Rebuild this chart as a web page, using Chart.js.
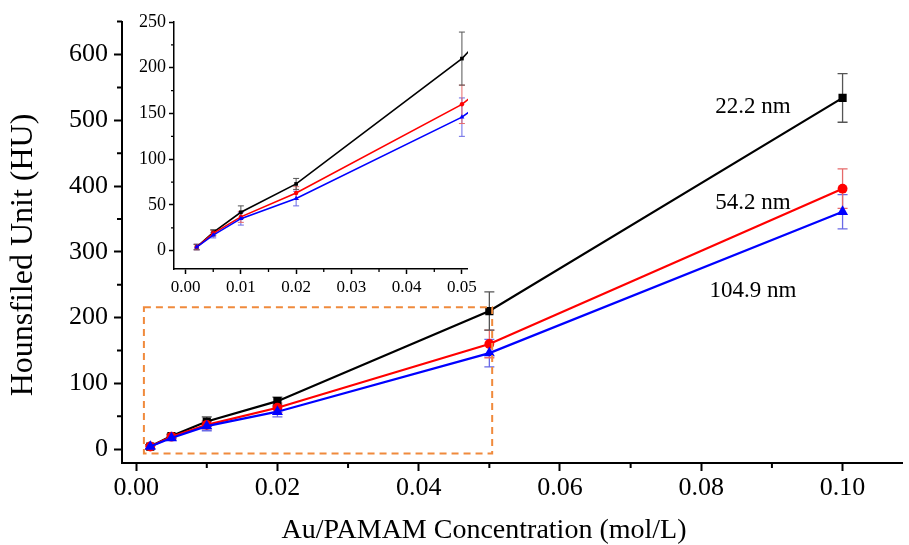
<!DOCTYPE html>
<html>
<head>
<meta charset="utf-8">
<script src="https://cdn.jsdelivr.net/npm/chart.js@4/dist/chart.umd.min.js"></script>
<style>
    body { margin: 0; background: #fff; }
    #caixa { position: relative; width: 909px; height: 545px; }
    #principal { position: absolute; left: 0; top: 0; }
    #detalhe { position: absolute; left: 120px; top: 0; }
</style>
</head>
<body>
<div id="caixa">
    <canvas id="principal" width="909" height="545"></canvas>
    <canvas id="detalhe" width="360" height="310"></canvas>
</div>
<script>
//? Dados
const concentracoes = [0.002, 0.005, 0.01, 0.02, 0.05, 0.1]
const hu22 = [4, 20, 42, 73, 210, 534]
const hu54 = [4, 19, 37, 63, 160, 396]
const hu104 = [4, 17, 35, 57, 146, 361]
const erro22 = [3, 3, 7, 6, 29, 37]
const erro54 = [3, 3, 6, 7, 21, 30]
const erro104 = [3, 3, 7, 8, 21, 26]
const rotulos = ['22.2 nm', '54.2 nm', '104.9 nm']

const ticksX = [0, 0.02, 0.04, 0.06, 0.08, 0.10]
const ticksXMenor = [0.01, 0.03, 0.05, 0.07, 0.09]
const ticksY = [0, 100, 200, 300, 400, 500, 600]
const ticksYMenor = [50, 150, 250, 350, 450, 550, 650]
const ticksXDetalhe = [0, 0.01, 0.02, 0.03, 0.04, 0.05]
const ticksXDetalheMenor = [0.005, 0.015, 0.025, 0.035, 0.045]
const ticksYDetalhe = [0, 50, 100, 150, 200, 250]
const ticksYDetalheMenor = [25, 75, 125, 175, 225]

const FONTE = "'Liberation Serif', 'Times New Roman', serif"

function pontos(valores) {
    return concentracoes.map((x, i) => ({ x: x, y: valores[i] }))
}

function montarDatasets(tam, largura) {
    // azul primeiro pra ficar por cima
    return [
        { label: rotulos[2], data: pontos(hu104), erros: erro104, corErro: '#6a6ae6',
          borderColor: '#0000ff', backgroundColor: '#0000ff', pointStyle: 'triangle', pointRadius: tam * 1.1 },
        { label: rotulos[1], data: pontos(hu54), erros: erro54, corErro: '#e66a6a',
          borderColor: '#ff0000', backgroundColor: '#ff0000', pointStyle: 'circle', pointRadius: tam * 0.85 },
        { label: rotulos[0], data: pontos(hu22), erros: erro22, corErro: '#555555',
          borderColor: '#000000', backgroundColor: '#000000', pointStyle: 'rect', pointRadius: tam }
    ].map(d => Object.assign(d, { showLine: true, borderWidth: largura, pointBorderWidth: 0, clip: 0 }))
}

//? Barras de erro
const barrasErro = {
    id: 'barrasErro',
    beforeDatasetsDraw(chart, args, opts) {
        const ctx = chart.ctx
        const xs = chart.scales.x, ys = chart.scales.y
        const a = chart.chartArea
        ctx.save()
        ctx.beginPath()
        ctx.rect(a.left, a.top - 20, a.right - a.left, a.bottom - a.top + 20)
        ctx.clip()
        ctx.lineWidth = opts.largura
        chart.data.datasets.forEach(ds => {
            ctx.strokeStyle = ds.corErro
            ds.data.forEach((p, i) => {
                if (p.x > xs.max) return
                const px = xs.getPixelForValue(p.x)
                const t = ys.getPixelForValue(p.y + ds.erros[i])
                const b = ys.getPixelForValue(p.y - ds.erros[i])
                ctx.beginPath()
                ctx.moveTo(px, t); ctx.lineTo(px, b)
                ctx.moveTo(px - opts.cap, t); ctx.lineTo(px + opts.cap, t)
                ctx.moveTo(px - opts.cap, b); ctx.lineTo(px + opts.cap, b)
                ctx.stroke()
            })
        })
        ctx.restore()
    }
}

//? Ticks menores
const ticksMenores = {
    id: 'ticksMenores',
    afterDraw(chart, args, opts) {
        const ctx = chart.ctx
        const xs = chart.scales.x, ys = chart.scales.y
        const a = chart.chartArea
        ctx.save()
        ctx.strokeStyle = '#000'
        ctx.lineWidth = opts.largura
        ctx.beginPath()
        opts.x.forEach(v => {
            const px = xs.getPixelForValue(v)
            ctx.moveTo(px, a.bottom); ctx.lineTo(px, a.bottom + opts.len)
        })
        opts.y.forEach(v => {
            if (v > ys.max) return
            const py = ys.getPixelForValue(v)
            ctx.moveTo(a.left, py); ctx.lineTo(a.left - opts.len, py)
        })
        ctx.stroke()
        ctx.restore()
    }
}

//? Retangulo tracejado, rotulos e titulos do grafico principal
const extrasPrincipal = {
    id: 'extrasPrincipal',
    afterDatasetsDraw(chart) {
        const ctx = chart.ctx
        const xs = chart.scales.x, ys = chart.scales.y
        ctx.save()
        ctx.strokeStyle = '#f08a3c'
        ctx.lineWidth = 2
        ctx.setLineDash([7, 5])
        const x1 = xs.getPixelForValue(0.0011), x2 = xs.getPixelForValue(0.0504)
        const y1 = ys.getPixelForValue(215.6), y2 = ys.getPixelForValue(-6.5)
        ctx.strokeRect(x1, y1, x2 - x1, y2 - y1)
        ctx.restore()
    },
    afterDraw(chart) {
        const ctx = chart.ctx
        const xs = chart.scales.x, ys = chart.scales.y
        ctx.save()
        ctx.fillStyle = '#000'
        ctx.textAlign = 'center'
        ctx.textBaseline = 'middle'
        ctx.font = '23px ' + FONTE
        const posRotulos = [[0.0873, 521], [0.0873, 374], [0.0873, 241]]
        rotulos.forEach((r, i) => {
            ctx.fillText(r, xs.getPixelForValue(posRotulos[i][0]), ys.getPixelForValue(posRotulos[i][1]))
        })
        ctx.font = '28px ' + FONTE
        ctx.fillText('Au/PAMAM Concentration (mol/L)', 484, 531)
        ctx.translate(24, 255)
        ctx.rotate(-Math.PI / 2)
        ctx.font = '32px ' + FONTE
        ctx.fillText('Hounsfiled Unit (HU)', 0, 0)
        ctx.restore()
    }
}

const fundoBranco = {
    id: 'fundoBranco',
    beforeDraw(chart) {
        const ctx = chart.ctx
        ctx.save()
        ctx.fillStyle = '#fff'
        ctx.fillRect(0, 0, chart.width, chart.height)
        ctx.restore()
    }
}

function eixo(min, max, valores, opcoes) {
    return {
        type: 'linear',
        min: min,
        max: max,
        afterBuildTicks: (s) => { s.ticks = valores.map(v => ({ value: v })) },
        afterFit: opcoes.afterFit,
        border: { display: true, color: '#000', width: opcoes.largura },
        grid: { drawOnChartArea: false, drawTicks: true, tickLength: opcoes.tick, tickWidth: opcoes.largura, tickColor: '#000' },
        ticks: {
            color: '#000',
            padding: opcoes.padding,
            maxRotation: 0,
            autoSkip: false,
            font: { family: FONTE, size: opcoes.fonte },
            callback: opcoes.callback
        }
    }
}

Chart.defaults.animation = false

//? Grafico principal
new Chart(document.getElementById('principal').getContext('2d'), {
    type: 'scatter',
    data: { datasets: montarDatasets(5.8, 2.2) },
    options: {
        responsive: false,
        layout: { padding: { top: 20, right: 4, left: 0, bottom: 0 } },
        plugins: {
            legend: { display: false },
            tooltip: { enabled: false },
            barrasErro: { largura: 1.3, cap: 5 },
            ticksMenores: { x: ticksXMenor, y: ticksYMenor, len: 5, largura: 2 }
        },
        scales: {
            x: eixo(-0.002, 0.1085, ticksX, {
                largura: 2, tick: 8, padding: 2, fonte: 26,
                callback: v => v.toFixed(2),
                afterFit: s => { s.height = 82 }
            }),
            y: eixo(-21, 650, ticksY, {
                largura: 2, tick: 8, padding: 6, fonte: 26,
                callback: v => v,
                afterFit: s => { s.width = 122 }
            })
        }
    },
    plugins: [fundoBranco, barrasErro, ticksMenores, extrasPrincipal]
})

//? Grafico menor (detalhe)
new Chart(document.getElementById('detalhe').getContext('2d'), {
    type: 'scatter',
    data: { datasets: montarDatasets(2.6, 1.6) },
    options: {
        responsive: false,
        layout: { padding: { top: 22, right: 10, left: 0, bottom: 0 } },
        plugins: {
            legend: { display: false },
            tooltip: { enabled: false },
            barrasErro: { largura: 1, cap: 3 },
            ticksMenores: { x: ticksXDetalheMenor, y: ticksYDetalheMenor, len: 3, largura: 1.3 }
        },
        scales: {
            x: eixo(-0.0021, 0.0511, ticksXDetalhe, {
                largura: 1.5, tick: 5, padding: 3, fonte: 17,
                callback: v => v.toFixed(2),
                afterFit: s => { s.height = 41 }
            }),
            y: eixo(-20, 250, ticksYDetalhe, {
                largura: 1.5, tick: 5, padding: 3, fonte: 18,
                callback: v => v,
                afterFit: s => { s.width = 54 }
            })
        }
    },
    plugins: [barrasErro, ticksMenores]
})
</script>
</body>
</html>
